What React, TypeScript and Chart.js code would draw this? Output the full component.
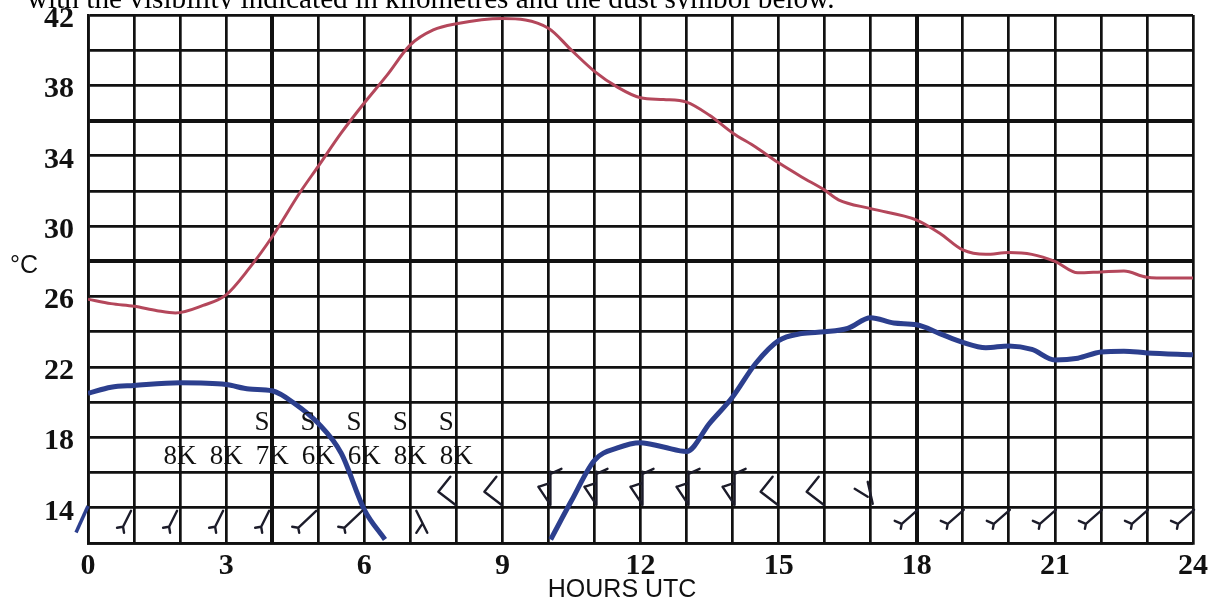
import React, { useEffect, useRef } from "react";
import { Chart, registerables } from "chart.js";

Chart.register(...registerables);

// ---- data ----
const titleText = "with the visibility indicated in kilometres and the dust symbol below.";
const yAxisUnit = "°C";
const xAxisTitle = "HOURS UTC";

const tempHours = [0, 0.5, 1, 1.5, 1.9, 2.5, 3, 3.5, 4, 4.6, 5, 5.5, 6, 6.5, 7, 7.5, 8, 9, 10, 10.5, 11, 11.5, 12, 12.5, 13, 13.5, 14, 14.5, 15, 15.5, 16, 16.3, 17, 18, 18.5, 19, 19.5, 20, 20.5, 21, 21.5, 22, 22.5, 23, 23.5, 24];
const tempValues = [25.85, 25.6, 25.45, 25.2, 25.07, 25.5, 26.1, 27.6, 29.4, 31.9, 33.4, 35.3, 37.0, 38.6, 40.3, 41.15, 41.5, 41.8, 41.25, 40.0, 38.8, 37.9, 37.3, 37.2, 37.05, 36.3, 35.3, 34.5, 33.6, 32.8, 32.05, 31.5, 31.0, 30.35, 29.6, 28.65, 28.4, 28.5, 28.4, 28.0, 27.35, 27.4, 27.45, 27.1, 27.05, 27.05];

const dewHours = [0, 0.5, 1, 2, 3, 3.5, 4, 4.5, 5, 5.5, 6, 6.45, 8, 10.05, 10.5, 11, 11.5, 12, 12.5, 13, 13.5, 14, 14.5, 15, 15.5, 16, 16.5, 17, 17.5, 18, 18.5, 19, 19.5, 20, 20.5, 21, 21.5, 22, 22.5, 23, 24];
const dewValues = [20.5, 20.85, 20.95, 21.1, 21.0, 20.75, 20.65, 19.9, 18.8, 17.1, 13.9, 12.2, null, 12.2, 14.4, 16.7, 17.4, 17.7, 17.45, 17.2, 18.8, 20.3, 22.2, 23.5, 23.9, 24.0, 24.2, 24.8, 24.5, 24.4, 23.9, 23.4, 23.1, 23.2, 23.0, 22.4, 22.5, 22.85, 22.9, 22.8, 22.7];

const dewStubHours = [-0.26, 0];
const dewStubValues = [12.6, 14.1];

const visHours = [2, 3, 4, 5, 6, 7, 8];
const visLabels = ["8K", "8K", "7K", "6K", "6K", "8K", "8K"];
const dustHours = [4, 5, 6, 7, 8];
const dustLabels = ["S", "S", "S", "S", "S"];

const barbHours = [1, 2, 3, 4, 5, 6, 7, 8, 9, 10, 11, 12, 13, 14, 15, 16, 17, 18, 19, 20, 21, 22, 23, 24];
const barbValues = [14, 14, 14, 14, 14, 14, 14, 14, 14, 14, 14, 14, 14, 14, 14, 14, 14, 14, 14, 14, 14, 14, 14, 14];
const barbGlyphs = ["sw", "sw", "sw", "sw", "wsw", "wsw", "nw", "lt", "lt", "tri", "tri", "tri", "tri", "tri", "lt", "lt", "y", "sw2", "sw2", "sw2", "sw2", "sw2", "sw2", "sw2"];

const yTickStart = 14;
const yTickEvery = 4;
const xTickEvery = 3;
const thickHours = [4, 18];
const thickTemps = [28, 36];

// ---- glyph shapes for wind barbs (pixel strokes relative to anchor) ----
const GLYPHS: Record<string, number[][]> = {
  sw: [[-3, 3, -11, 19], [-11, 19, -17, 20], [-11, 19, -10, 25]],
  wsw: [[-2, 3, -20, 20], [-20, 20, -26, 19], [-20, 20, -19, 25]],
  nw: [[6, 3, 17, 25], [12, 16, 6, 25]],
  lt: [[-1, -3, -18, -16], [-18, -16, -6, -31]],
  tri: [[2, -36, 2, -3], [-10, -21, 2, -3], [-10, -21, 2, -25], [2, -34, 13, -39]],
  y: [[-3, -26, 2, -4], [-16, -19, -3, -11]],
  sw2: [[1, 2, -15, 16], [-15, 16, -22, 13], [-15, 16, -16, 21]],
};

const annotations = {
  id: "meteoAnnotations",
  afterDraw(chart: any) {
    const ctx = chart.ctx;
    const xs = chart.scales.x;
    const ys = chart.scales.y;
    ctx.save();
    // cropped caption text at the very top
    ctx.save();
    ctx.beginPath();
    ctx.rect(0, 0, chart.width, 9);
    ctx.clip();
    ctx.fillStyle = "#000";
    ctx.textBaseline = "alphabetic";
    ctx.textAlign = "left";
    ctx.font = '28px "Liberation Serif", serif';
    const w = ctx.measureText(titleText).width;
    const size = 28 * 808 / w;
    ctx.font = `${size}px "Liberation Serif", serif`;
    ctx.fillText(titleText, 27, 8);
    ctx.restore();

    // unit label
    ctx.fillStyle = "#111";
    ctx.font = '25px "Liberation Sans", Arial, sans-serif';
    ctx.textAlign = "left";
    ctx.textBaseline = "alphabetic";
    ctx.fillText(yAxisUnit, 10, 273);

    // x axis title
    ctx.textAlign = "center";
    ctx.fillText(xAxisTitle, xs.getPixelForValue(11.6), 597);

    // visibility and dust labels
    ctx.font = '27px "Liberation Serif", serif';
    ctx.textBaseline = "middle";
    ctx.fillStyle = "#111";
    visHours.forEach((h, i) => {
      ctx.fillText(visLabels[i], xs.getPixelForValue(h), ys.getPixelForValue(16.9));
    });
    dustHours.forEach((h, i) => {
      ctx.fillText(dustLabels[i], xs.getPixelForValue(h - 0.22), ys.getPixelForValue(18.8));
    });

    // wind barbs
    ctx.strokeStyle = "#1c1c2a";
    ctx.lineWidth = 2.4;
    ctx.lineCap = "round";
    barbHours.forEach((h, i) => {
      const ax = xs.getPixelForValue(h);
      const ay = ys.getPixelForValue(barbValues[i]);
      const g = GLYPHS[barbGlyphs[i]];
      ctx.beginPath();
      g.forEach((s) => {
        ctx.moveTo(ax + s[0], ay + s[1]);
        ctx.lineTo(ax + s[2], ay + s[3]);
      });
      ctx.stroke();
    });
    ctx.restore();
  },
};

export default function App() {
  const ref = useRef<HTMLCanvasElement | null>(null);
  useEffect(() => {
    if (!ref.current) return;
    const chart = new Chart(ref.current, {
      type: "line",
      data: {
        datasets: [
          {
            label: "Temperature",
            data: tempHours.map((h, i) => ({ x: h, y: tempValues[i] })),
            borderColor: "#b4475b",
            borderWidth: 3,
            pointRadius: 0,
            cubicInterpolationMode: "monotone",
            fill: false,
          },
          {
            label: "Dew point",
            data: dewHours.map((h, i) => ({ x: h, y: dewValues[i] })),
            borderColor: "#2c3f8e",
            borderWidth: 5,
            pointRadius: 0,
            cubicInterpolationMode: "monotone",
            spanGaps: false,
            fill: false,
          },
          {
            label: "Dew point stub",
            data: dewStubHours.map((h, i) => ({ x: h, y: dewStubValues[i] })),
            borderColor: "#2c3f8e",
            borderWidth: 3.5,
            pointRadius: 0,
            clip: false,
            fill: false,
          },
        ],
      },
      options: {
        animation: false,
        responsive: false,
        layout: { padding: { top: 15, right: 24, left: 0, bottom: 0 } },
        plugins: { legend: { display: false }, tooltip: { enabled: false }, title: { display: false } },
        scales: {
          x: {
            type: "linear",
            min: 0,
            max: 24,
            afterFit: (s: any) => { s.height = 60; s.paddingLeft = 0; s.paddingRight = 0; },
            ticks: {
              stepSize: 1,
              autoSkip: false,
              maxRotation: 0,
              padding: 5,
              color: "#111",
              font: { family: '"Liberation Serif", serif', size: 30, weight: "bold" },
              callback: (v: any) => (Number(v) % xTickEvery === 0 ? String(v) : ""),
            },
            grid: {
              color: "#111",
              drawTicks: false,
              lineWidth: (c: any) => (thickHours.includes(c.tick?.value) ? 4 : 2.7),
            },
            border: { display: true, color: "#111", width: 2.7 },
          },
          y: {
            type: "linear",
            min: 12,
            max: 42,
            afterFit: (s: any) => { s.width = 88; s.paddingTop = 0; s.paddingBottom = 0; },
            ticks: {
              stepSize: 2,
              autoSkip: false,
              padding: 14,
              labelOffset: 4,
              color: "#111",
              font: { family: '"Liberation Serif", serif', size: 30, weight: "bold" },
              callback: (v: any) => ((Number(v) - yTickStart) % yTickEvery === 0 && Number(v) >= yTickStart ? String(v) : ""),
            },
            grid: {
              color: "#111",
              drawTicks: false,
              lineWidth: (c: any) => (thickTemps.includes(c.tick?.value) ? 4 : 2.7),
            },
            border: { display: true, color: "#111", width: 2.7 },
          },
        },
      },
      plugins: [annotations],
    });
    return () => chart.destroy();
  }, []);
  return (
    <div style={{ position: "fixed", left: 0, top: 0, width: 1217, height: 603, background: "#fff" }}>
      <canvas ref={ref} width={1217} height={603} style={{ display: "block" }} />
    </div>
  );
}
